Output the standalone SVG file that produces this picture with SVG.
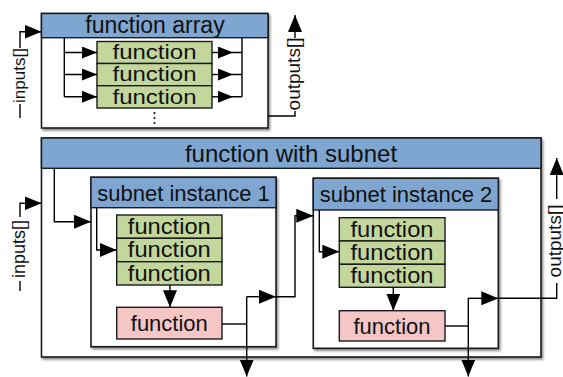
<svg xmlns="http://www.w3.org/2000/svg" width="563" height="377" viewBox="0 0 563 377">
  <defs>
    <style>
      text { font-family: "Liberation Sans", Arial, sans-serif; fill: #111; }
      .box { fill: #fff; stroke: #1a1a1a; stroke-width: 1.6; }
      .hdr { fill: #7ea6d0; stroke: #1a1a1a; stroke-width: 1.4; }
      .fn { fill: #c3d79d; stroke: #1a1a1a; stroke-width: 1.4; }
      .fnp { fill: #f4c6c6; stroke: #1a1a1a; stroke-width: 1.4; }
      .wire { fill: none; stroke: #000; stroke-width: 1.4; }
      .arr { fill: none; stroke: #000; stroke-width: 1.4; marker-end: url(#head); }
      .arrs { fill: none; stroke: #000; stroke-width: 1.4; marker-end: url(#headSmall); }
      .t24 { font-size: 23px; text-anchor: middle; }
      .tfn { font-size: 22px; text-anchor: middle; }
      .tfa { font-size: 20.5px; text-anchor: middle; }
      .t22 { font-size: 22px; text-anchor: middle; }
      .lbl { font-size: 18px; text-anchor: middle; }
    </style>
    <marker id="head" viewBox="0 0 17 14" refX="17" refY="7" markerWidth="17" markerHeight="14" markerUnits="userSpaceOnUse" orient="auto">
      <path d="M0,0 L17,7 L0,14 z" fill="#000"/>
    </marker>
    <marker id="headSmall" viewBox="0 0 15 12" refX="15" refY="6" markerWidth="15" markerHeight="12" markerUnits="userSpaceOnUse" orient="auto">
      <path d="M0,0 L15,6 L0,12 z" fill="#000"/>
    </marker>
    <filter id="shadow" x="-5%" y="-5%" width="115%" height="115%">
      <feDropShadow dx="1.5" dy="2" stdDeviation="1.3" flood-color="#000" flood-opacity="0.45"/>
    </filter>
  </defs>

  <!-- function array -->
  <g id="function-array">
    <rect class="box" x="41.5" y="13.5" width="226.5" height="114.5" filter="url(#shadow)"/>
    <rect class="hdr" x="41.5" y="13.5" width="226.5" height="24.2"/>
    <text class="t24" x="155" y="33">function array</text>
  </g>
  <g id="array-fn-1">
    <rect class="fn" x="97" y="41.5" width="115" height="22"/>
    <text class="tfa" x="154.5" y="59" textLength="84" lengthAdjust="spacingAndGlyphs">function</text>
  </g>
  <g id="array-fn-2">
    <rect class="fn" x="97" y="63.5" width="115" height="22.2"/>
    <text class="tfa" x="154.5" y="81.2" textLength="84" lengthAdjust="spacingAndGlyphs">function</text>
  </g>
  <g id="array-fn-3">
    <rect class="fn" x="97" y="85.7" width="115" height="22.3"/>
    <text class="tfa" x="154.5" y="103.5" textLength="84" lengthAdjust="spacingAndGlyphs">function</text>
  </g>
  <g id="array-more">
    <circle cx="154.5" cy="113" r="1"/>
    <circle cx="154.5" cy="118" r="1"/>
    <circle cx="154.5" cy="123" r="1"/>
  </g>

  <!-- function with subnet -->
  <g id="function-with-subnet">
    <rect class="box" x="41.5" y="138" width="499.5" height="219" filter="url(#shadow)"/>
    <rect class="hdr" x="41.5" y="138" width="499.5" height="30.3"/>
    <text class="t24" x="291" y="162" style="font-size:24px">function with subnet</text>
  </g>

  <g id="subnet-instance-1">
    <rect class="box" x="91" y="177.3" width="185" height="169.4" filter="url(#shadow)"/>
    <rect class="hdr" x="91" y="177.3" width="185" height="30.4"/>
    <text class="t22" x="183.5" y="200.5">subnet instance 1</text>
  </g>
  <g id="s1-fn-1">
    <rect class="fn" x="116.7" y="215" width="105.3" height="23.3"/>
    <text class="tfn" x="169.3" y="234" textLength="83" lengthAdjust="spacingAndGlyphs">function</text>
  </g>
  <g id="s1-fn-2">
    <rect class="fn" x="116.7" y="238.3" width="105.3" height="23.4"/>
    <text class="tfn" x="169.3" y="257.3" textLength="83" lengthAdjust="spacingAndGlyphs">function</text>
  </g>
  <g id="s1-fn-3">
    <rect class="fn" x="116.7" y="261.7" width="105.3" height="23.3"/>
    <text class="tfn" x="169.3" y="280.5" textLength="83" lengthAdjust="spacingAndGlyphs">function</text>
  </g>
  <g id="s1-fn-out">
    <rect class="fnp" x="116.7" y="307.3" width="105.3" height="31.7"/>
    <text class="t22" x="169.3" y="331">function</text>
  </g>

  <g id="subnet-instance-2">
    <rect class="box" x="313.3" y="178.3" width="185" height="170" filter="url(#shadow)"/>
    <rect class="hdr" x="313.3" y="178.3" width="185" height="31.7"/>
    <text class="t22" x="406" y="202">subnet instance 2</text>
  </g>
  <g id="s2-fn-1">
    <rect class="fn" x="339.3" y="217.7" width="105.7" height="23.3"/>
    <text class="tfn" x="392" y="236.7" textLength="83" lengthAdjust="spacingAndGlyphs">function</text>
  </g>
  <g id="s2-fn-2">
    <rect class="fn" x="339.3" y="241" width="105.7" height="23.3"/>
    <text class="tfn" x="392" y="260" textLength="83" lengthAdjust="spacingAndGlyphs">function</text>
  </g>
  <g id="s2-fn-3">
    <rect class="fn" x="339.3" y="264.3" width="105.7" height="23"/>
    <text class="tfn" x="392" y="283" textLength="83" lengthAdjust="spacingAndGlyphs">function</text>
  </g>
  <g id="s2-fn-out">
    <rect class="fnp" x="339.3" y="310.7" width="105.7" height="30.3"/>
    <text class="t22" x="392" y="334">function</text>
  </g>

  <!-- connectors -->
  <g id="connectors">
    <!-- array fan-out / fan-in -->
    <path class="wire" d="M64.3,37.7 V96.8"/>
    <path class="arrs" d="M64.3,52.5 H97"/>
    <path class="arrs" d="M64.3,74.5 H97"/>
    <path class="arrs" d="M64.3,96.8 H97"/>
    <path class="wire" d="M242,37.7 V96.8 M233,52.5 H242 M233,74.5 H242 M233,96.8 H242"/>
    <path class="arrs" d="M212,52.5 H233"/>
    <path class="arrs" d="M212,74.5 H233"/>
    <path class="arrs" d="M212,96.8 H233"/>

    <!-- array inputs / outputs -->
    <path class="wire" d="M20,118 V104"/>
    <path class="arr" d="M20,48 V31.7 H41.5"/>
    <text class="lbl" style="font-size:17px" transform="translate(24.5,75.5) rotate(-90)">inputs[]</text>
    <path class="wire" d="M268,116 H295 V111"/>
    <path class="arr" d="M295,38 V15"/>
    <text class="lbl" style="font-size:19px" transform="translate(300,74) rotate(-90)">outputs[]</text>

    <!-- subnet inputs -->
    <path class="wire" d="M20,291 V281"/>
    <path class="arr" d="M20,217 V203.3 H41.5"/>
    <text class="lbl" transform="translate(24.5,249) rotate(-90)">inputs[]</text>
    <path class="arr" d="M54.3,168.3 V221.7 H91"/>

    <!-- inside instance 1 -->
    <path class="arr" d="M96.7,207.7 V250 H116.7"/>
    <path class="arr" d="M170,285 V307.3"/>
    <path class="wire" d="M222,324 H246.7"/>
    <path class="arr" d="M246.7,296.7 V376.5"/>
    <path class="arr" d="M246.7,296.7 H276"/>

    <!-- instance 1 to instance 2 -->
    <path class="arr" d="M276,296.7 H295 V215.8 H313.3"/>

    <!-- inside instance 2 -->
    <path class="arr" d="M319.3,210 V251.7 H339.3"/>
    <path class="arr" d="M393.3,287.3 V310.7"/>
    <path class="wire" d="M445,326 H468.3"/>
    <path class="arr" d="M468.3,298.3 V376.5"/>
    <path class="arr" d="M468.3,298.3 H498.3"/>

    <!-- subnet outputs -->
    <path class="wire" d="M498.3,298.3 H556.7 V283"/>
    <path class="arr" d="M556.7,199 V158"/>
    <text class="lbl" style="font-size:19px" transform="translate(560.5,241) rotate(-90)">outputs[]</text>
  </g>
</svg>
